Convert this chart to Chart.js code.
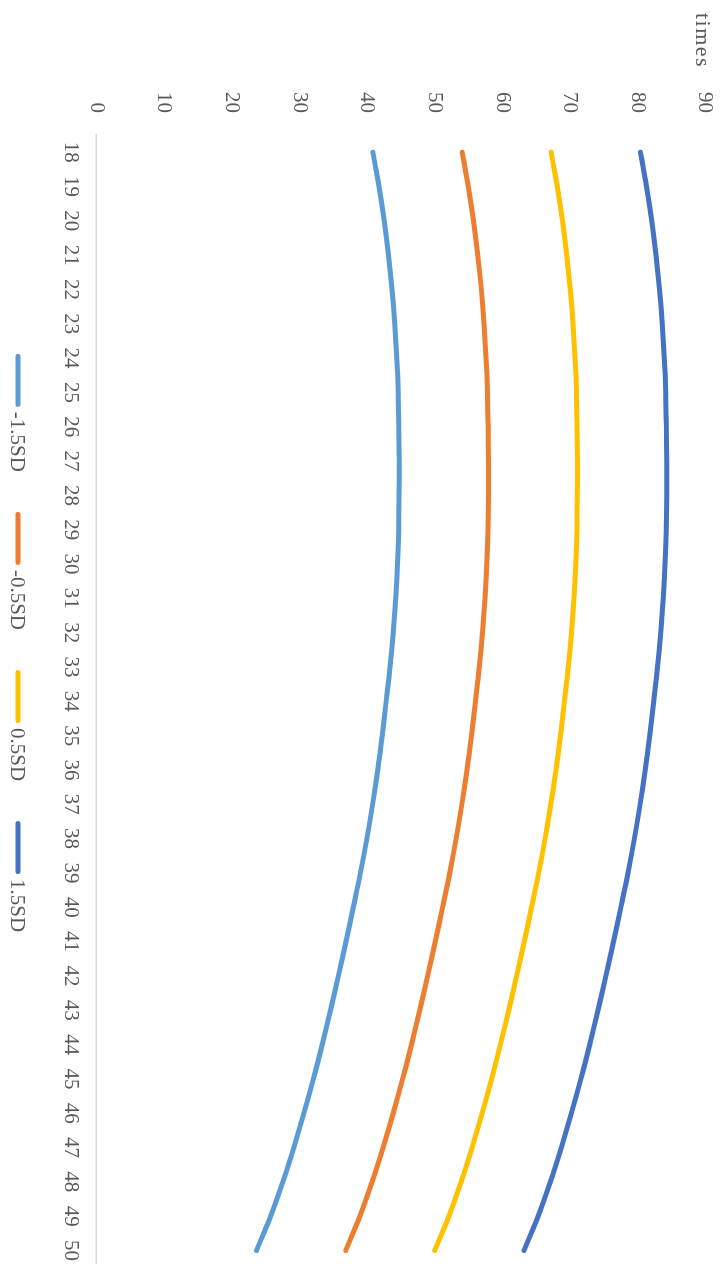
<!DOCTYPE html>
<html>
<head>
<meta charset="utf-8">
<script src="https://cdn.jsdelivr.net/npm/chart.js@4/dist/chart.umd.min.js"></script>
<style>
  html, body { margin: 0; padding: 0; background: #fff; overflow: hidden; }
  /* chart is laid out landscape, then turned a quarter clockwise */
  #wrap {
    position: absolute; left: 0; top: 0;
    width: 1274px; height: 724px;
    transform-origin: 0 0;
    transform: translate(724px, 0) rotate(90deg);
  }
</style>
</head>
<body>
<div id="wrap"><canvas id="sdChart" width="1274" height="724"></canvas></div>
<script>
const ages = ['18','19','20','21','22','23','24','25','26','27','28','29','30','31','32','33','34',
  '35','36','37','38','39','40','41','42','43','44','45','46','47','48','49','50'];

const minus15 = [40.90, 41.80, 42.58, 43.22, 43.74, 44.14, 44.44, 44.64, 44.74, 44.79, 44.78, 44.71, 44.54, 44.27,
  43.90, 43.43, 42.86, 42.28, 41.62, 40.86, 40.01, 39.06, 38.01, 36.93, 35.80, 34.63, 33.41, 32.11, 30.71, 29.21,
  27.59, 25.79, 23.69];
const minus05 = [54.10, 55.00, 55.78, 56.42, 56.94, 57.34, 57.64, 57.84, 57.94, 57.99, 57.98, 57.91, 57.74, 57.47,
  57.10, 56.63, 56.06, 55.48, 54.82, 54.06, 53.21, 52.26, 51.21, 50.13, 49.00, 47.83, 46.61, 45.31, 43.91, 42.41,
  40.79, 38.99, 36.89];
const plus05 = [67.25, 68.15, 68.93, 69.57, 70.09, 70.49, 70.79, 70.99, 71.09, 71.14, 71.13, 71.06, 70.89, 70.62,
  70.25, 69.78, 69.21, 68.63, 67.97, 67.21, 66.36, 65.41, 64.36, 63.28, 62.15, 60.98, 59.76, 58.46, 57.06, 55.56,
  53.94, 52.14, 50.04];
const plus15 = [80.45, 81.35, 82.13, 82.77, 83.29, 83.69, 83.99, 84.19, 84.29, 84.34, 84.33, 84.26, 84.09, 83.82,
  83.45, 82.98, 82.41, 81.83, 81.17, 80.41, 79.56, 78.61, 77.56, 76.48, 75.35, 74.18, 72.96, 71.66, 70.26, 68.76,
  67.14, 65.34, 63.24];

const seriesNames = ['-1.5SD', '-0.5SD', '0.5SD', '1.5SD'];
const seriesColors = ['#5B9BD5', '#ED7D31', '#FFC000', '#4472C4'];
const yTicks = [0, 10, 20, 30, 40, 50, 60, 70, 80, 90];
const yTitle = 'times';

const textColor = '#595959';
const fontFamily = '"Liberation Serif", "Times New Roman", serif';
const fontSize = 21;

// small label above the value axis, level with its top tick
const unitLabel = {
  id: 'unitLabel',
  afterDraw(chart) {
    const ctx = chart.ctx;
    const y = chart.scales.y.getPixelForValue(yTicks[yTicks.length - 1]);
    ctx.save();
    ctx.font = '22px ' + fontFamily;
    ctx.fillStyle = textColor;
    ctx.textAlign = 'left';
    ctx.textBaseline = 'middle';
    ctx.letterSpacing = '1.5px';
    ctx.fillText(yTitle, 13, y + 3);
    ctx.restore();
  }
};

// legend row under the axis: short thick line, then the series name
const lineLegend = {
  id: 'lineLegend',
  afterDraw(chart) {
    const ctx = chart.ctx;
    const lineLen = 53, gap = 5, itemGap = 40;
    ctx.save();
    ctx.font = fontSize + 'px ' + fontFamily;
    const widths = chart.data.datasets.map(ds => lineLen + gap + ctx.measureText(ds.label).width);
    const total = widths.reduce((a, b) => a + b, 0) + itemGap * (widths.length - 1);
    let x = chart.width / 2 - total / 2 + 6;
    const y = chart.height - 18;
    ctx.textAlign = 'left';
    ctx.textBaseline = 'middle';
    chart.data.datasets.forEach((ds, i) => {
      ctx.strokeStyle = ds.borderColor;
      ctx.lineWidth = 5;
      ctx.lineCap = 'round';
      ctx.beginPath();
      ctx.moveTo(x + 2.5, y);
      ctx.lineTo(x + lineLen - 2.5, y);
      ctx.stroke();
      ctx.fillStyle = textColor;
      ctx.fillText(ds.label, x + lineLen + gap, y + 1);
      x += widths[i] + itemGap;
    });
    ctx.restore();
  }
};

const allSeries = [minus15, minus05, plus05, plus15];

new Chart(document.getElementById('sdChart'), {
  type: 'line',
  data: {
    labels: ages,
    datasets: allSeries.map((vals, i) => ({
      label: seriesNames[i],
      data: vals,
      borderColor: seriesColors[i],
      backgroundColor: seriesColors[i],
      borderWidth: 5,
      borderCapStyle: 'round',
      pointRadius: 0,
      tension: 0.4,
      fill: false
    }))
  },
  options: {
    responsive: false,
    animation: false,
    layout: { padding: { left: 0, top: 19, right: 0, bottom: 45 } },
    scales: {
      x: {
        offset: true,
        grid: { display: false, drawTicks: false },
        border: { display: true, color: '#D9D9D9', width: 1.5 },
        ticks: {
          color: textColor,
          font: { family: fontFamily, size: fontSize },
          padding: 13,
          maxRotation: 0,
          autoSkip: false
        }
      },
      y: {
        min: 0,
        max: 90,
        grid: { display: false, drawTicks: false },
        border: { display: false },
        afterBuildTicks(scale) {
          scale.ticks = yTicks.map(v => ({ value: v }));
        },
        afterFit(scale) {
          // keep label gap from widening the plot's top/bottom margins
          scale.width = 135;
          scale.paddingTop = 12;
          scale.paddingBottom = 0;
        },
        ticks: {
          color: textColor,
          font: { family: fontFamily, size: fontSize },
          padding: 22
        }
      }
    },
    plugins: {
      tooltip: { enabled: false },
      legend: { display: false }
    }
  },
  plugins: [unitLabel, lineLegend]
});
</script>
</body>
</html>
